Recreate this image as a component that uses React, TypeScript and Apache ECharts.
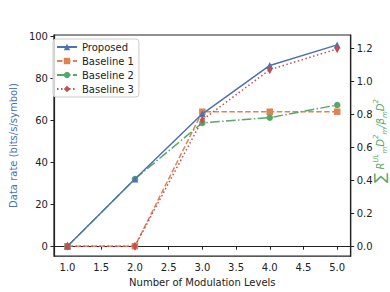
import React, { useEffect, useRef } from "react";
import * as echarts from "echarts";

const levels = [1, 2, 3, 4, 5];
const proposed = [0, 32, 63, 86, 95.8];
const baseline1 = [0, 0, 64, 64, 64];
const baseline2 = [0, 32, 58.7, 61.2, 67.2];
const baseline3 = [0, 0, 60.1, 84, 93.9];
const xTicks = [1, 1.5, 2, 2.5, 3, 3.5, 4, 4.5, 5];
const leftTicks = [0, 20, 40, 60, 80, 100];
const rightTicks = [0, 0.2, 0.4, 0.6, 0.8, 1.0, 1.2];

const FONT = "DejaVu Sans";
const BLUE = "#4C72B0";
const ORANGE = "#DD8452";
const GREEN = "#55A868";
const RED = "#C44E52";

const pairs = (ys: number[]) => levels.map((x, i) => [x, ys[i]]);

export default function App() {
  const ref = useRef<HTMLDivElement>(null);
  useEffect(() => {
    if (!ref.current) return;
    const chart = echarts.init(ref.current, null, { renderer: "svg" });
    const tickStyle = { show: true, length: 3.5, lineStyle: { color: "#222", width: 1 } };
    chart.setOption({
      animation: false,
      grid: {
        left: 49,
        right: 39.3,
        top: 35,
        bottom: 33,
        show: true,
        borderColor: "#222",
        borderWidth: 1.2,
        backgroundColor: "transparent",
      },
      legend: {
        orient: "vertical",
        left: 53,
        top: 39,
        padding: [1, 5, 1, 3],
        itemWidth: 20,
        itemHeight: 8,
        itemGap: 0,
        borderColor: "#ccc",
        borderWidth: 1,
        borderRadius: 3,
        backgroundColor: "rgba(255,255,255,0.8)",
        textStyle: { fontFamily: FONT, fontSize: 10, color: "#222", lineHeight: 14 },
        data: ["Proposed", "Baseline 1", "Baseline 2", "Baseline 3"],
      },
      xAxis: {
        type: "value",
        min: 0.8,
        max: 5.2,
        name: "Number of Modulation Levels",
        nameLocation: "middle",
        nameGap: 18,
        nameTextStyle: { fontFamily: FONT, fontSize: 10, color: "#222" },
        axisLine: { show: true, lineStyle: { color: "#222", width: 1.2 } },
        axisTick: { ...tickStyle, customValues: xTicks },
        axisLabel: {
          customValues: xTicks,
          formatter: (v: number) => v.toFixed(1),
          fontFamily: FONT,
          fontSize: 10,
          color: "#222",
          margin: 6,
        },
        splitLine: { show: false },
      },
      yAxis: [
        {
          type: "value",
          min: -4.7,
          max: 100.5,
          name: "Data rate (bits/s/symbol)",
          nameLocation: "middle",
          nameGap: 34,
          nameTextStyle: { fontFamily: FONT, fontSize: 10, color: BLUE },
          axisLine: { show: true, lineStyle: { color: "#222", width: 1.2 } },
          axisTick: { ...tickStyle, customValues: leftTicks },
          axisLabel: {
            customValues: leftTicks,
            fontFamily: FONT,
            fontSize: 10,
            color: "#222",
            margin: 6,
          },
          splitLine: { show: false },
        },
        {
          type: "value",
          position: "right",
          min: -0.058,
          max: 1.28,
          axisLine: { show: true, lineStyle: { color: "#222", width: 1.2 } },
          axisTick: { ...tickStyle, customValues: rightTicks },
          axisLabel: {
            customValues: rightTicks,
            formatter: (v: number) => v.toFixed(1),
            fontFamily: FONT,
            fontSize: 10,
            color: "#222",
            margin: 6,
          },
          splitLine: { show: false },
        },
      ],
      graphic: [
        {
          type: "text",
          x: 380,
          y: 141,
          rotation: Math.PI / 2,
          style: {
            text: "{s|∑} {n|R}{sup|UL}{sub|m}{n|D}{sup|2}{sub|m}{n|/β}{sub|m}{n|D}{sup|2}",
            align: "center",
            verticalAlign: "middle",
            fill: GREEN,
            rich: {
              s: { fontFamily: FONT, fontSize: 15, fill: GREEN, lineHeight: 16 },
              n: { fontFamily: FONT, fontSize: 10, fontStyle: "italic", fill: GREEN, lineHeight: 16 },
              sup: { fontFamily: FONT, fontSize: 7, fontStyle: "italic", fill: GREEN, lineHeight: 8, verticalAlign: "top" },
              sub: { fontFamily: FONT, fontSize: 7, fontStyle: "italic", fill: GREEN, lineHeight: 8, verticalAlign: "bottom" },
            },
          },
        },
      ],
      series: [
        {
          name: "Proposed",
          type: "line",
          data: pairs(proposed),
          symbol: "triangle",
          symbolSize: 7,
          color: BLUE,
          lineStyle: { width: 1.5, color: BLUE },
          itemStyle: { color: BLUE },
          z: 5,
        },
        {
          name: "Baseline 1",
          type: "line",
          data: pairs(baseline1),
          symbol: "rect",
          symbolSize: 6.5,
          color: ORANGE,
          lineStyle: { width: 1.5, color: ORANGE, type: [5.5, 2.4] },
          itemStyle: { color: ORANGE },
          z: 3,
        },
        {
          name: "Baseline 2",
          type: "line",
          data: pairs(baseline2),
          symbol: "circle",
          symbolSize: 6.5,
          color: GREEN,
          lineStyle: { width: 1.5, color: GREEN, type: [9.6, 2.4, 1.5, 2.4] },
          itemStyle: { color: GREEN },
          z: 4,
        },
        {
          name: "Baseline 3",
          type: "line",
          data: pairs(baseline3),
          symbol: "diamond",
          symbolSize: [5, 9],
          color: RED,
          lineStyle: { width: 1.5, color: RED, type: [1.5, 2.5] },
          itemStyle: { color: RED },
          z: 6,
        },
      ],
    });
    return () => chart.dispose();
  }, []);
  return (
    <div
      ref={ref}
      style={{ position: "fixed", left: 0, top: 0, width: 390, height: 292, background: "#fff" }}
    />
  );
}
